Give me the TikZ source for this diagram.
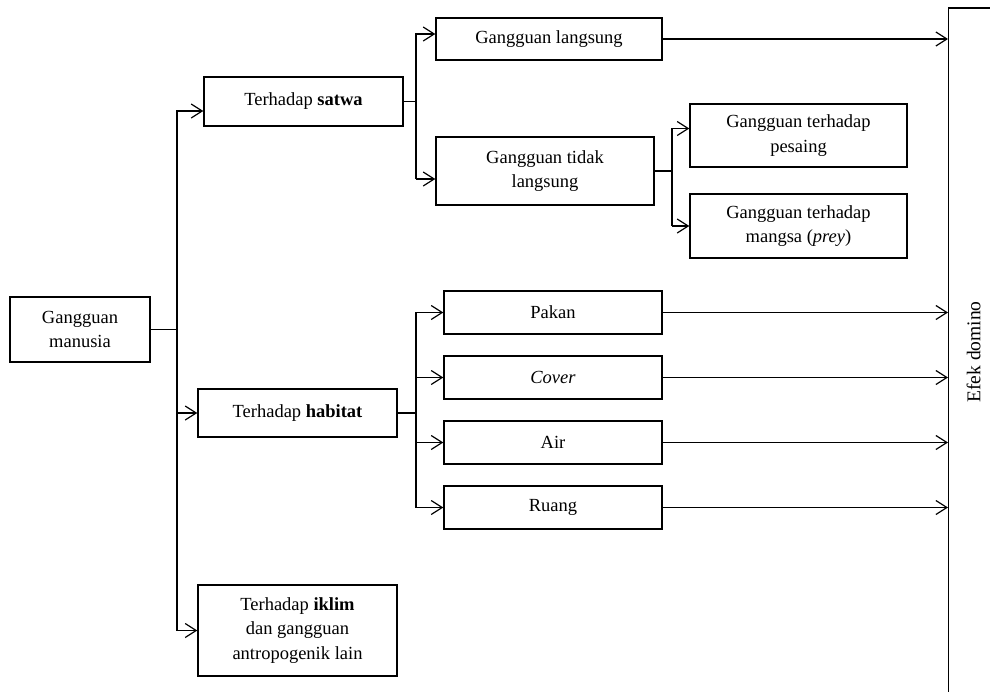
\documentclass[tikz,border=0pt]{standalone}
\usepackage{fontspec}
\setmainfont{Liberation Serif}
\usetikzlibrary{positioning, calc, arrows.meta}
\tikzset{dbox/.style={draw, line width=1.4pt, align=center, inner sep=2pt, font=\fontsize{18.5}{24.5}\selectfont}}
\tikzset{ln/.style={draw, line width=1.2pt}}
\tikzset{arr/.style={draw, line width=1.2pt, -{Straight Barb[length=11pt, width=14pt]}}}

\begin{document}
\begin{tikzpicture}[x=1pt, y=-1pt]
    \path[use as bounding box, clip] (0,0) rectangle (990,691);
    % first level
    \node[dbox, minimum width=140pt, minimum height=65pt] (manusia) at (80,329.5) {Gangguan\\manusia};
    \node[dbox, minimum width=199pt, minimum height=49pt] (satwa) at (303.5,101.5) {Terhadap \textbf{satwa}};
    \node[dbox, minimum width=199pt, minimum height=48pt] (habitat) at (297.5,413) {Terhadap \textbf{habitat}};
    \node[dbox, minimum width=199pt, minimum height=91pt] (iklim) at (297.5,630.5)
        {Terhadap \textbf{iklim}\\dan gangguan\\antropogenik lain};
    % satwa
    \node[dbox, minimum width=226pt, minimum height=42pt] (langsung) at (549,39) {Gangguan langsung};
    \node[dbox, minimum width=218pt, minimum height=68pt] (tidak) at (545,171) {Gangguan tidak\\langsung};
    \node[dbox, minimum width=217pt, minimum height=63pt] (pesaing) at (798.5,135.5) {Gangguan terhadap\\pesaing};
    \node[dbox, minimum width=217pt, minimum height=64pt] (mangsa) at (798.5,226) {Gangguan terhadap\\mangsa (\textit{prey})};
    % habitat
    \foreach \name/\txt/\y in {pakan/Pakan/312.5, cover/\textit{Cover}/377.5, air/Air/442.5, ruang/Ruang/507.5}
        \node[dbox, minimum width=218pt, minimum height=43pt] (\name) at (553,\y) {\txt};
    \node[dbox, font=\fontsize{19.5}{23.5}\selectfont, rotate=90, anchor=north, minimum width=688pt, minimum height=50pt] (efek) at (948,352) {Efek domino};

    \coordinate (trunk) at (177,0);
    \coordinate (sbr) at (416,0);
    \coordinate (tbr) at (672,0);
    \coordinate (hbr) at (416,0);

    \draw[ln] (manusia) -- (manusia -| trunk);
    \draw[arr] (trunk |- iklim) |- ([yshift=-9.5pt]satwa.west);
    \draw[arr] (trunk |- habitat) -- (habitat);
    \draw[arr] (trunk |- iklim) -- (iklim);

    \draw[ln] (satwa) -- (satwa -| sbr);
    \draw[arr] ([yshift=-8pt]tidak.west -| sbr) |- ([yshift=5pt]langsung.west);
    \draw[arr] ([yshift=-8pt]tidak.west -| sbr) -- ([yshift=-8pt]tidak.west);

    \draw[ln] (tidak) -- (tidak -| tbr);
    \draw[arr] (tbr |- mangsa) |- ([yshift=7pt]pesaing.west);
    \draw[arr] (tbr |- mangsa) -- (mangsa);

    \draw[ln] (habitat) -- (habitat -| hbr);
    \draw[arr] (hbr |- ruang) |- (pakan);
    \foreach \n in {cover, air, ruang}
        \draw[arr] (hbr |- \n) -- (\n);

    \foreach \n in {langsung, pakan, cover, air, ruang}
        \draw[arr] (\n) -- (\n -| efek.north);
\end{tikzpicture}
\end{document}
